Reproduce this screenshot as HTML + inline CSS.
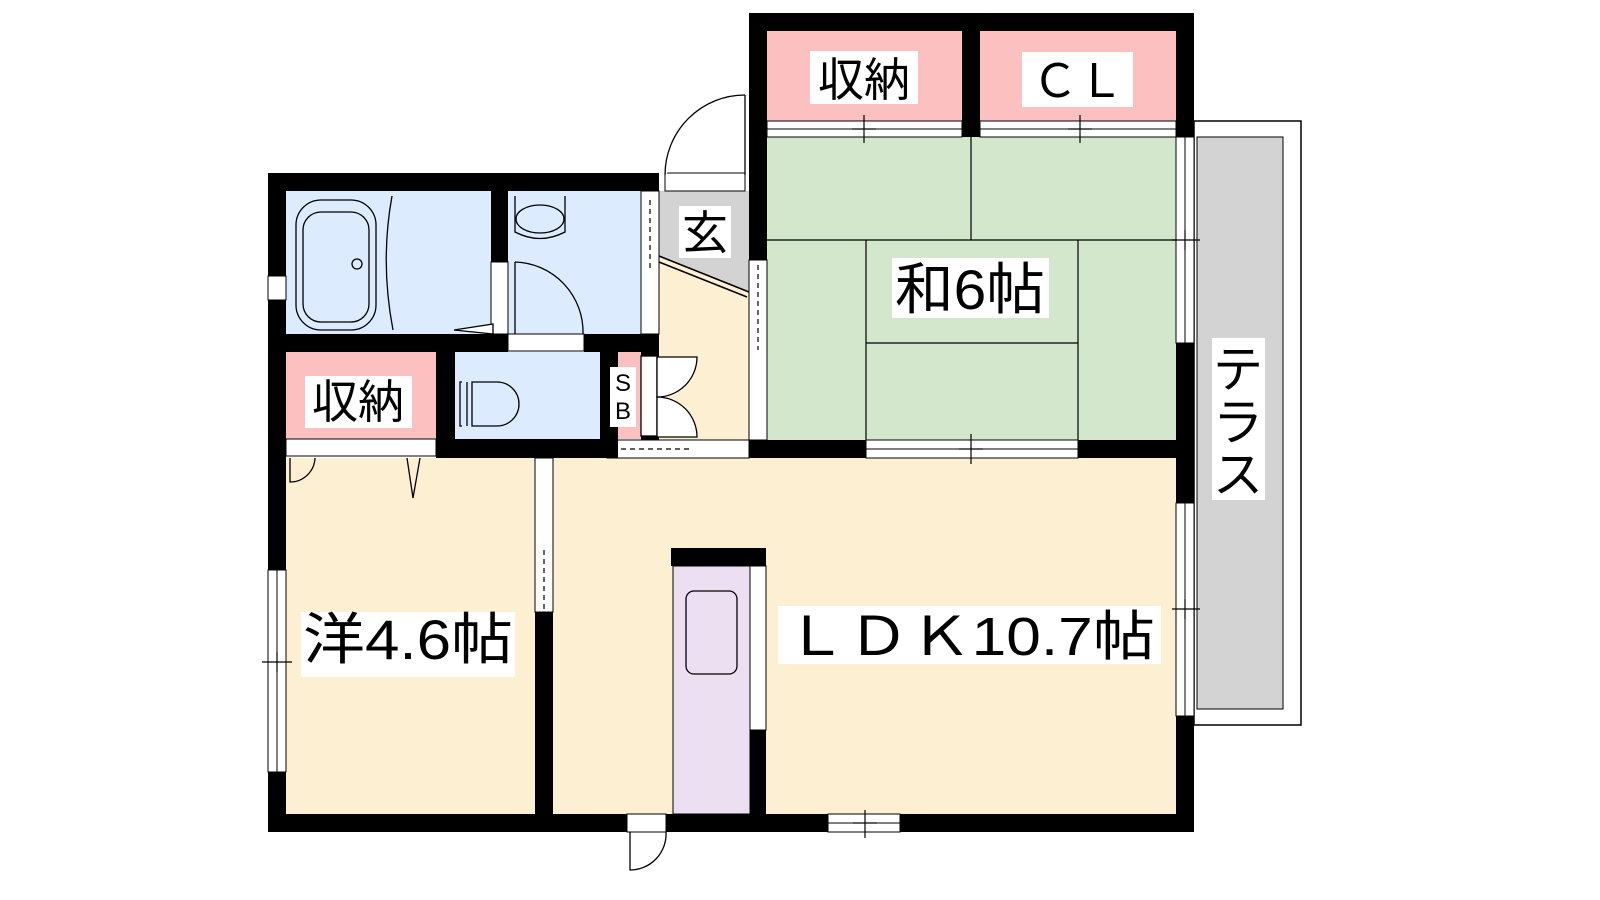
<!DOCTYPE html>
<html><head><meta charset="utf-8"><style>
html,body{margin:0;padding:0;background:#fff;}
svg{display:block}
text{font-family:"Liberation Sans","Noto Sans CJK JP",sans-serif;fill:#000}
</style></head><body>
<svg width="1600" height="900" viewBox="0 0 1600 900" xmlns="http://www.w3.org/2000/svg">
<rect width="1600" height="900" fill="#fff"/>
<!-- terrace -->
<rect x="1194" y="121" width="107" height="604" fill="#fff" stroke="#000" stroke-width="1.5"/>
<rect x="1197" y="137" width="86" height="572" fill="#d3d3d3" stroke="#000" stroke-width="1"/>
<!-- floors -->
<rect x="286" y="191" width="205" height="143" fill="#dcebfd"/>
<rect x="508" y="191" width="133" height="143" fill="#dcebfd"/>
<rect x="455" y="352" width="145" height="87" fill="#dcebfd"/>
<rect x="286" y="352" width="150" height="87" fill="#fcc0c0"/>
<rect x="618" y="352" width="23" height="87" fill="#fcc0c0"/>
<rect x="659" y="191" width="90" height="250" fill="#fdf0d2"/>
<polygon points="659,191 749,191 749,292 659,256" fill="#d3d3d3"/>
<line x1="659" y1="262" x2="747" y2="297" stroke="#000" stroke-width="1.5"/>
<line x1="659" y1="256" x2="749" y2="292" stroke="#000" stroke-width="1.5"/>
<rect x="767" y="31" width="195" height="90" fill="#fcc0c0"/>
<rect x="980" y="31" width="196" height="90" fill="#fcc0c0"/>
<rect x="767" y="137" width="409" height="303" fill="#d2e7cb"/>
<rect x="286" y="458" width="249" height="356" fill="#fdf0d2"/>
<rect x="553" y="458" width="623" height="356" fill="#fdf0d2"/>
<!-- tatami lines -->
<g stroke="#000" stroke-width="1.2">
<line x1="767" y1="240" x2="1176" y2="240"/>
<line x1="971" y1="137" x2="971" y2="240"/>
<line x1="866" y1="240" x2="866" y2="440"/>
<line x1="1078" y1="240" x2="1078" y2="440"/>
<line x1="866" y1="343" x2="1078" y2="343"/>
</g>
<!-- closet door strips -->
<g fill="#fff" stroke="#000" stroke-width="1">
<rect x="767" y="121" width="195" height="16"/>
<rect x="980" y="121" width="196" height="16"/>
<line x1="767" y1="129" x2="962" y2="129"/><line x1="980" y1="129" x2="1176" y2="129"/>
<rect x="286" y="439" width="150" height="17"/>
<rect x="866" y="440" width="212" height="18"/>
<line x1="866" y1="449" x2="1078" y2="449"/>
<rect x="607" y="440" width="142" height="18"/>
<rect x="1176" y="137" width="18" height="206"/>
<line x1="1185" y1="137" x2="1185" y2="343"/>
<rect x="1176" y="503" width="18" height="213"/>
<line x1="1185" y1="503" x2="1185" y2="716"/>
<rect x="268" y="570" width="18" height="202"/>
<line x1="277" y1="570" x2="277" y2="772"/>
<rect x="268" y="276" width="18" height="24"/>
<rect x="535" y="458" width="18" height="154"/>
<rect x="749" y="260" width="18" height="180"/>
<rect x="641" y="191" width="18" height="143"/>
<rect x="828" y="814" width="72" height="18"/>
<line x1="828" y1="823" x2="900" y2="823"/>
<rect x="627" y="814" width="39" height="18"/>
<rect x="665" y="173" width="80" height="18"/>
<rect x="508" y="334" width="76" height="17"/>
<rect x="491" y="262" width="17" height="72"/>
<rect x="750" y="566" width="16" height="164"/>
</g>
<g stroke="#000" stroke-width="1.2" stroke-dasharray="5,4">
<line x1="612" y1="449" x2="690" y2="449"/>
<line x1="758" y1="265" x2="758" y2="350"/>
<line x1="544" y1="550" x2="544" y2="610"/>
<line x1="650" y1="200" x2="650" y2="268"/>
</g>
<!-- walls -->
<g fill="#000">
<rect x="268" y="173" width="391" height="18"/>
<rect x="268" y="173" width="18" height="103"/>
<rect x="268" y="300" width="18" height="270"/>
<rect x="268" y="772" width="18" height="60"/>
<rect x="268" y="814" width="359" height="18"/>
<rect x="666" y="814" width="162" height="18"/>
<rect x="900" y="814" width="294" height="18"/>
<rect x="749" y="13" width="445" height="18"/>
<rect x="749" y="13" width="18" height="247"/>
<rect x="1176" y="13" width="18" height="124"/>
<rect x="1176" y="343" width="18" height="160"/>
<rect x="1176" y="716" width="18" height="116"/>
<rect x="962" y="31" width="18" height="106"/>
<rect x="491" y="191" width="17" height="71"/>
<rect x="286" y="334" width="222" height="18"/>
<rect x="584" y="334" width="75" height="18"/>
<rect x="641" y="334" width="18" height="106"/>
<rect x="436" y="334" width="19" height="124"/>
<rect x="436" y="439" width="171" height="19"/>
<rect x="600" y="352" width="18" height="106"/>
<rect x="749" y="440" width="117" height="18"/>
<rect x="1078" y="440" width="116" height="18"/>
<rect x="535" y="612" width="18" height="202"/>
<rect x="671" y="548" width="95" height="18"/>
<rect x="750" y="730" width="16" height="84"/>
</g>
<rect x="673" y="566" width="77" height="248" fill="#ecdff2" stroke="#000" stroke-width="1"/>
<rect x="686" y="591" width="51" height="83" rx="8" fill="none" stroke="#000" stroke-width="1.3"/>
<!-- fixtures -->
<g fill="none" stroke="#000" stroke-width="1.3">
<rect x="296" y="200" width="80" height="130" rx="25"/>
<rect x="303" y="212" width="66" height="110" rx="18"/>
<circle cx="357" cy="264" r="5"/>
<path d="M392,196 Q380,262 393,330"/>
<path d="M454,330 L493,324 L493,334 Z" fill="#fff"/>
<path d="M515,196 L515,232 Q540,245 565,232 L565,196"/>
<ellipse cx="540" cy="219" rx="24" ry="14"/>
<path d="M515,262 A70,70 0 0 1 583,334" />
<line x1="515" y1="262" x2="515" y2="334"/>
<path d="M462,382 L460,382 L460,426 L462,426"/>
<path d="M472,382 L497,382 A22,22 0 0 1 497,426 L472,426 Z"/>
<line x1="467" y1="382" x2="467" y2="426"/>
<rect x="641" y="356" width="16" height="80" fill="#fff"/>
<path d="M657,357 L697,357 A40,40 0 0 1 657,397 Z" fill="#fff"/>
<path d="M657,397 A40,40 0 0 1 697,437 L657,437 Z" fill="#fff"/>
<path d="M745,95 A80,80 0 0 0 665,175" fill="#fff"/>
<line x1="745" y1="95" x2="745" y2="175"/>
<path d="M290,458 L290,482 A25,25 0 0 0 315,458"/>
<path d="M407,458 L413,498 L420,458"/>
<path d="M630,832 L630,870 A36,36 0 0 0 666,832"/>
</g>
<!-- tick marks -->
<g stroke="#000" stroke-width="1.2">
<line x1="864" y1="115" x2="864" y2="143"/><line x1="852" y1="129" x2="876" y2="129"/>
<line x1="1080" y1="115" x2="1080" y2="143"/><line x1="1068" y1="129" x2="1092" y2="129"/>
<line x1="971" y1="434" x2="971" y2="464"/><line x1="959" y1="449" x2="983" y2="449"/>
<line x1="1172" y1="240" x2="1200" y2="240"/><line x1="1185" y1="230" x2="1185" y2="250"/>
<line x1="1172" y1="609" x2="1200" y2="609"/><line x1="1185" y1="599" x2="1185" y2="619"/>
<line x1="262" y1="662" x2="292" y2="662"/><line x1="277" y1="652" x2="277" y2="672"/>
<line x1="865" y1="810" x2="865" y2="838"/><line x1="853" y1="823" x2="877" y2="823"/>
</g>
<!-- labels -->
<g fill="#fff">
<rect x="810" y="51" width="108" height="53"/>
<rect x="1022" y="52" width="111" height="55"/>
<rect x="892" y="258" width="157" height="60"/>
<rect x="679" y="206" width="52" height="52"/>
<rect x="305" y="376" width="107" height="52"/>
<rect x="610" y="367" width="26" height="60"/>
<rect x="301" y="612" width="214" height="65"/>
<rect x="778" y="606" width="383" height="58"/>
<rect x="1212" y="338" width="53" height="162"/>
</g>
<text x="864" y="96" font-size="46" text-anchor="middle">収納</text>
<text x="1078" y="97" font-size="46" text-anchor="middle">ＣＬ</text>
<text x="970" y="309" font-size="56" text-anchor="middle" textLength="150" lengthAdjust="spacingAndGlyphs">和6帖</text>
<text x="705" y="249" font-size="46" text-anchor="middle">玄</text>
<text x="358" y="418" font-size="46" text-anchor="middle">収納</text>
<text x="623" y="391" font-size="24" text-anchor="middle">S</text>
<text x="623" y="419" font-size="24" text-anchor="middle">B</text>
<text x="408" y="659" font-size="56" text-anchor="middle" textLength="210" lengthAdjust="spacingAndGlyphs">洋4.6帖</text>
<text x="970" y="655" font-size="54" text-anchor="middle" textLength="370" lengthAdjust="spacingAndGlyphs">ＬＤＫ10.7帖</text>
<text x="1238" y="387" font-size="50" text-anchor="middle">テ</text>
<text x="1238" y="440" font-size="50" text-anchor="middle">ラ</text>
<text x="1238" y="492" font-size="50" text-anchor="middle">ス</text>
</svg>
</body></html>
